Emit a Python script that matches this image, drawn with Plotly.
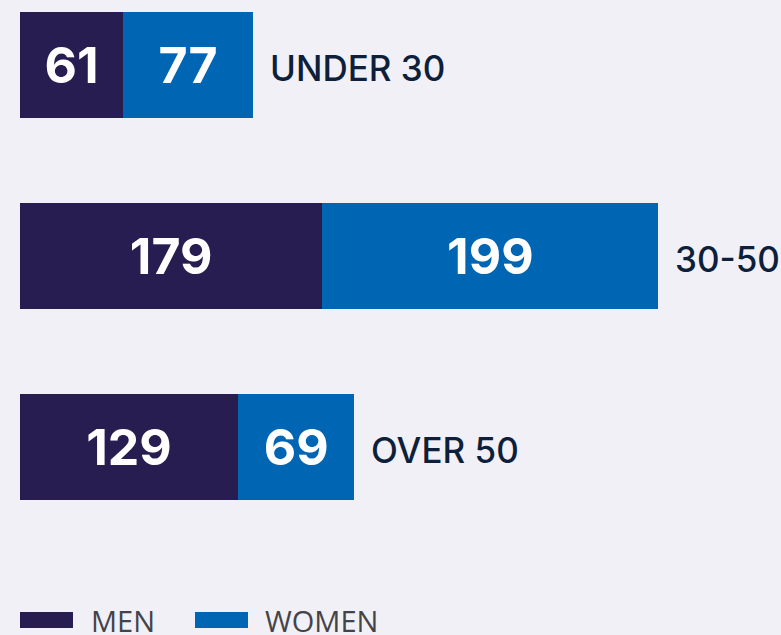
import plotly.graph_objects as go

categories = ["UNDER 30", "30-50", "OVER 50"]
men = [61, 179, 129]
women = [77, 199, 69]
series_names = ["MEN", "WOMEN"]

MEN_C = "#281d50"
WOMEN_C = "#0066b3"
BG = "#f2f0f7"
TXT = "#0d1f3a"

ypos = list(range(len(categories)))
totals = [m + w for m, w in zip(men, women)]

fig = go.Figure()
for name, vals, col in [(series_names[0], men, MEN_C), (series_names[1], women, WOMEN_C)]:
    fig.add_trace(go.Bar(
        y=ypos, x=vals, orientation="h", name=name,
        marker=dict(color=col, line=dict(width=0)),
        width=0.555,
        text=[str(v) for v in vals], textposition="inside",
        insidetextanchor="middle",
        textfont=dict(family="Inter", size=50, color="white", weight="bold"),
        showlegend=False,
    ))

for y, t, c in zip(ypos, totals, categories):
    fig.add_annotation(x=t, y=y, text=c, showarrow=False, xanchor="left",
                       yanchor="middle", xshift=15, yshift=-3,
                       font=dict(family="Inter", size=35, color=TXT, weight=500))

# legend drawn in layout
leg = [(series_names[0], MEN_C, 20, 89), (series_names[1], WOMEN_C, 195, 263)]
for name, col, x0, tx in leg:
    fig.add_shape(type="rect", xref="paper", yref="paper",
                  x0=(x0 - 20) / 760, x1=(x0 + 53 - 20) / 760,
                  y0=-(612 - 575) / 575, y1=-(628 - 575) / 575,
                  fillcolor=col, line=dict(width=0))
    fig.add_annotation(xref="paper", yref="paper", x=(tx - 20) / 760,
                       y=-(620 - 575) / 575, text=name, showarrow=False,
                       xanchor="left", yanchor="middle",
                       font=dict(family="Open Sans", size=29, color="#444448", weight=500))

fig.update_layout(
    barmode="stack",
    width=781, height=635,
    margin=dict(l=20, r=1, t=0, b=60),
    paper_bgcolor=BG, plot_bgcolor=BG,
    xaxis=dict(range=[0, 450], visible=False, fixedrange=True),
    yaxis=dict(range=[2.67, -0.34], visible=False, fixedrange=True),
    uniformtext=dict(mode="show", minsize=10),
)
fig.write_html("out.html", config={"displayModeBar": False},
               post_script="document.body.style.margin='0';document.body.style.overflow='hidden';")
